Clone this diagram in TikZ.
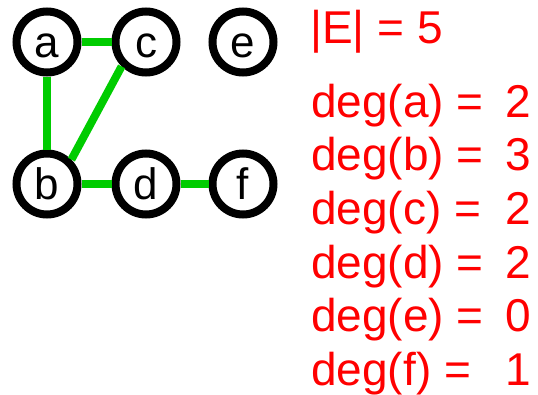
\documentclass[tikz,border=0pt]{standalone}
\usepackage{fontspec}
\setmainfont{Liberation Sans}
\definecolor{edgegreen}{RGB}{0,204,0}
\tikzset{
  vertex/.style={circle,draw=black,line width=8pt,fill=white,minimum size=61pt,
    inner sep=0pt,text height=30pt,text depth=0pt,font=\fontsize{44}{44}\selectfont},
  edge/.style={draw=edgegreen,line width=8pt},
  degtext/.style={text=red,inner sep=0pt,font=\fontsize{46}{46}\selectfont}
}
\begin{document}
\begin{tikzpicture}[x=1pt,y=-1pt]
\useasboundingbox (0,0) rectangle (538,394);
% vertices
\node[vertex] (a) at (47,42) {a};
\node[vertex] (c) at (146,42) {c};
\node[vertex] (e) at (243,42) {e};
\node[vertex] (b) at (47,184) {b};
\node[vertex] (d) at (146,184) {d};
\node[vertex] (f) at (243,184) {f};
% edges
\draw[edge] (a) -- (c);
\draw[edge] (a) -- (b);
\draw[edge] (b.45) -- (c.225);
\draw[edge] (b) -- (d);
\draw[edge] (d) -- (f);
% edge count and degree list
\node[degtext,anchor=base west] (count) at (310,43) {|E| = 5};
\foreach \v/\n/\y in {a/2/117,b/3/170.5,c/2/224,d/2/278,e/0/331,f/1/385} {
  \node[degtext,anchor=base west] (deg\v) at (311,\y) {deg(\v) =};
  \node[degtext,anchor=base east] (num\v) at (531,\y) {\n};
}
\end{tikzpicture}
\end{document}
